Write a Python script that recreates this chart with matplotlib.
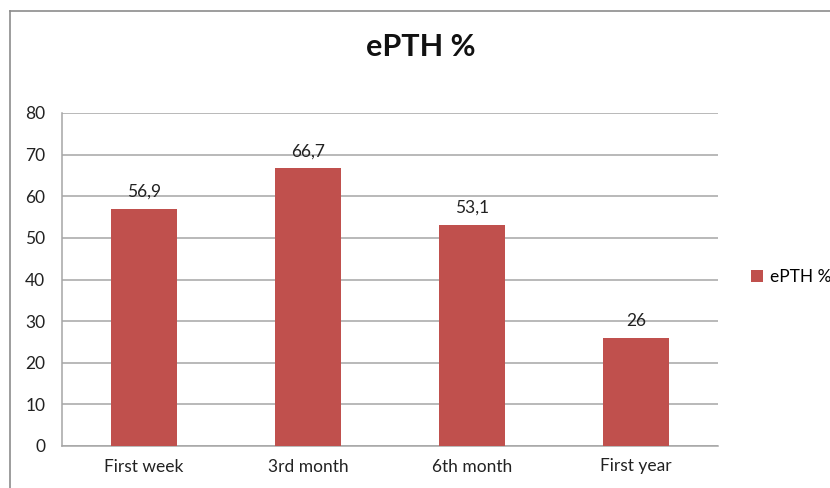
import matplotlib
matplotlib.use("Agg")
import matplotlib.pyplot as plt
from matplotlib.lines import Line2D

# data
categories = ["First week", "3rd month", "6th month", "First year"]
values = [56.9, 66.7, 53.1, 26]
series_name = "ePTH %"

plt.rcParams['font.family'] = ['Lato', 'DejaVu Sans']

fig = plt.figure(figsize=(8.3, 4.88), dpi=100)
ax = fig.add_axes([62/830, 1-446/488, (718-62)/830, (446-113)/488])

bar_color = '#C0504D'
bars = ax.bar(range(len(categories)), values, width=0.4, color=bar_color,
              label=series_name, zorder=3)

for b, v in zip(bars, values):
    txt = ('%g' % v).replace('.', ',')
    ax.text(b.get_x() + b.get_width()/2, v + 2.2, txt, ha='center', va='bottom',
            fontsize=12.5, color='#222222')

ax.set_xlim(-0.5, len(categories) - 0.5)
ax.set_ylim(0, 80)
ax.set_yticks(range(0, 81, 10))
ax.set_xticks(range(len(categories)))
ax.set_xticklabels(categories)
ax.tick_params(axis='both', length=0, labelsize=12.5, colors='#222222')
ax.tick_params(axis='y', pad=12)
ax.tick_params(axis='x', pad=9)
ax.yaxis.grid(True, color='#a6a6a6', linewidth=1.1, zorder=0)
ax.set_axisbelow(True)
for s in ['top', 'right']:
    ax.spines[s].set_visible(False)
for s in ['left', 'bottom']:
    ax.spines[s].set_color('#a6a6a6')
    ax.spines[s].set_linewidth(1.1)

fig.text(421/830, 1-47/488, "ePTH %", ha='center', va='center',
         fontsize=22, fontweight='bold', color='#111111')

leg = fig.legend(loc='center left', bbox_to_anchor=(742/830, 1-277/488),
                 frameon=False, fontsize=12.5, handlelength=0.7, handleheight=0.7,
                 handletextpad=0.4, borderpad=0)

# outer chart border (only left and top visible)
fig.add_artist(Line2D([10/830, 10/830], [0, 1-11/488], color='#8c8c8c', linewidth=1.2,
                      transform=fig.transFigure))
fig.add_artist(Line2D([10/830, 1], [1-11/488, 1-11/488], color='#8c8c8c', linewidth=1.2,
                      transform=fig.transFigure))

fig.savefig("out.png", dpi=100)
